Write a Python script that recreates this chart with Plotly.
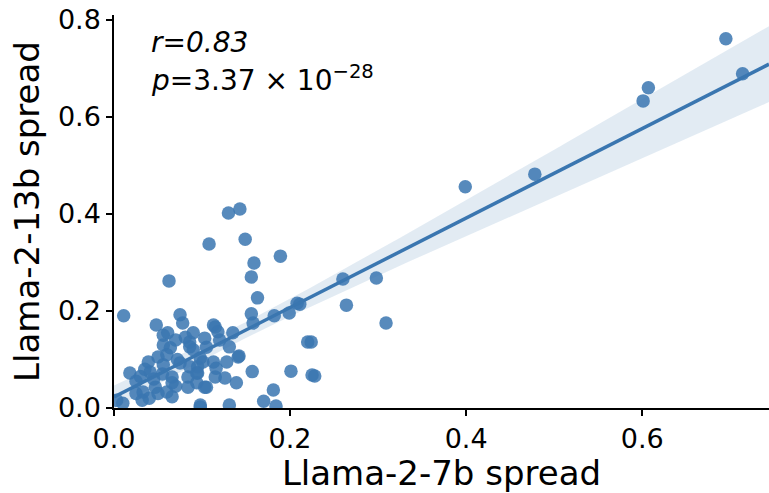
import numpy as np
import plotly.graph_objects as go

# Llama-2-7b spread (x) vs Llama-2-13b spread (y)
x_7b = [0.695, 0.714, 0.607, 0.601, 0.478, 0.399, 0.130, 0.143, 0.108, 0.149,
        0.189, 0.159, 0.156, 0.0625, 0.163, 0.260, 0.298, 0.264, 0.309, 0.220,
        0.224, 0.225, 0.228, 0.211, 0.156, 0.158, 0.182, 0.199, 0.208, 0.201,
        0.157, 0.181, 0.170, 0.184, 0.135, 0.115, 0.113, 0.118, 0.131, 0.142,
        0.128, 0.113, 0.101, 0.095, 0.115, 0.126, 0.139, 0.105, 0.131, 0.098,
        0.090, 0.086, 0.011, 0.075, 0.048, 0.056, 0.056, 0.064, 0.078, 0.081,
        0.086, 0.090, 0.018, 0.039, 0.041, 0.050, 0.056, 0.066, 0.066, 0.047,
        0.033, 0.060, 0.066, 0.032, 0.010, 0.003, 0.084, 0.084, 0.094, 0.075,
        0.086, 0.095, 0.098, 0.098, 0.025, 0.030, 0.035, 0.045, 0.050, 0.040,
        0.055, 0.060, 0.070, 0.072, 0.025, 0.105, 0.120, 0.103, 0.061, 0.141,
        0.103, 0.094, 0.070, 0.116]
y_13b = [0.761, 0.689, 0.660, 0.633, 0.482, 0.456, 0.402, 0.410, 0.338, 0.348,
         0.313, 0.299, 0.270, 0.262, 0.227, 0.266, 0.268, 0.212, 0.175, 0.136,
         0.136, 0.068, 0.066, 0.214, 0.194, 0.175, 0.190, 0.196, 0.216, 0.076,
         0.075, 0.037, 0.014, 0.004, 0.155, 0.167, 0.171, 0.157, 0.126, 0.107,
         0.095, 0.095, 0.095, 0.072, 0.064, 0.062, 0.052, 0.043, 0.006, 0.006,
         0.155, 0.126, 0.190, 0.192, 0.171, 0.150, 0.130, 0.124, 0.175, 0.146,
         0.136, 0.120, 0.072, 0.095, 0.074, 0.105, 0.089, 0.064, 0.052, 0.043,
         0.033, 0.033, 0.023, 0.016, 0.010, 0.016, 0.064, 0.043, 0.052, 0.093,
         0.085, 0.085, 0.103, 0.002, 0.055, 0.065, 0.080, 0.060, 0.030, 0.020,
         0.070, 0.110, 0.140, 0.100, 0.030, 0.125, 0.140, 0.144, 0.155, 0.105,
         0.043, 0.072, 0.045, 0.082]

x_ticks = [0.0, 0.2, 0.4, 0.6]
y_ticks = [0.0, 0.2, 0.4, 0.6, 0.8]
x_title = "Llama-2-7b spread"
y_title = "Llama-2-13b spread"
r_label = "<i>r=0.83</i>"
p_label = "<i>p</i>=3.37 × 10<sup>−28</sup>"

X_MAX = 0.744
Y_MAX = 0.810

x = np.array(x_7b)
y = np.array(y_13b)
n = len(x)
slope, intercept = np.polyfit(x, y, 1)
resid = y - (intercept + slope * x)
s = np.sqrt(np.sum(resid ** 2) / (n - 2))
xbar = x.mean()
sxx = np.sum((x - xbar) ** 2)
grid = np.linspace(0, X_MAX, 200)
fit = intercept + slope * grid
se = s * np.sqrt(1.0 / n + (grid - xbar) ** 2 / sxx)
tval = 1.984
upper = fit + tval * se
lower = fit - tval * se

blue = "rgb(58,118,176)"
font = "DejaVu Sans"

fig = go.Figure()
fig.add_trace(go.Scatter(
    x=np.concatenate([grid, grid[::-1]]), y=np.concatenate([upper, lower[::-1]]),
    fill="toself", fillcolor="rgba(58,118,176,0.15)", line=dict(width=0),
    mode="lines", hoverinfo="skip", showlegend=False))
fig.add_trace(go.Scatter(
    x=x, y=y, mode="markers",
    marker=dict(size=13.5, color=blue, opacity=0.85, line=dict(width=0)),
    showlegend=False))
fig.add_trace(go.Scatter(
    x=grid, y=fit, mode="lines", line=dict(color=blue, width=3.5),
    showlegend=False))

fig.add_annotation(text=r_label, xref="paper", yref="paper", x=0.053, y=0.93,
                   xanchor="left", yanchor="middle", showarrow=False,
                   font=dict(family=font, size=28, color="black"))
fig.add_annotation(text=p_label, xref="paper", yref="paper", x=0.053, y=0.838,
                   xanchor="left", yanchor="middle", showarrow=False,
                   font=dict(family=font, size=28, color="black"))

axis_common = dict(showgrid=False, zeroline=False, showline=True, linecolor="black",
                   linewidth=1.5, ticks="outside", ticklen=6, tickwidth=1.5,
                   tickcolor="black", tickfont=dict(family=font, size=27, color="black"),
                   mirror=False)
fig.update_xaxes(range=[0, X_MAX], tickvals=x_ticks, ticktext=[f"{v:.1f}" for v in x_ticks],
                 title=dict(text=x_title, font=dict(family=font, size=34, color="black"),
                            standoff=4), **axis_common)
fig.update_yaxes(range=[0, Y_MAX], tickvals=y_ticks, ticktext=[f"{v:.1f}" for v in y_ticks],
                 title=dict(text=y_title, font=dict(family=font, size=34, color="black"),
                            standoff=8), **axis_common)
fig.update_layout(width=769, height=493, margin=dict(l=114, r=0, t=15, b=85),
                  plot_bgcolor="white", paper_bgcolor="white",
                  font=dict(family=font))
fig.write_html("out.html")
